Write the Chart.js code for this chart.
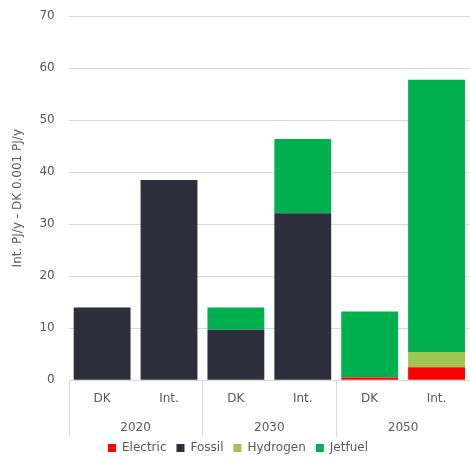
<!DOCTYPE html>
<html lang="en">
<head>
    <meta charset="UTF-8">
    <title>PJ/y</title>
    <script src="https://cdn.jsdelivr.net/npm/chart.js"></script>
    <style>
        body { margin: 0; padding: 0; background-color: white; }
        .wrap { width: 470px; height: 458px; }
    </style>
</head>
<body>
    <div class="wrap">
        <canvas id="pjChart"></canvas>
    </div>
    <script>
        // Datos
        const categories = ['DK', 'Int.', 'DK', 'Int.', 'DK', 'Int.'];
        const years = ['2020', '2030', '2050'];
        const electric = [0, 0, 0, 0, 0.5, 2.5];
        const fossil = [14, 38.5, 9.7, 32.1, 0, 0];
        const hydrogen = [0, 0, 0, 0, 0, 2.9];
        const jetfuel = [0, 0, 4.3, 14.3, 12.7, 52.4];
        const yTicks = [0, 10, 20, 30, 40, 50, 60, 70];

        // lineas separadoras entre grupos de años
        const separators = {
            id: 'separators',
            afterDraw(chart) {
                const x = chart.scales.x;
                const x2 = chart.scales.x2;
                const ctx = chart.ctx;
                const step = x.getPixelForValue(1) - x.getPixelForValue(0);
                ctx.save();
                ctx.strokeStyle = '#d9d9d9';
                ctx.lineWidth = 1;
                for (let i = 0; i <= categories.length; i += 2) {
                    const px = Math.round(x.getPixelForValue(0) - step / 2 + i * step) + 0.5;
                    ctx.beginPath();
                    ctx.moveTo(px, chart.chartArea.bottom);
                    ctx.lineTo(px, x2.bottom + 5);
                    ctx.stroke();
                }
                ctx.restore();
            }
        };

        Chart.defaults.font.family = "'DejaVu Sans', Verdana, sans-serif";
        Chart.defaults.font.size = 12;
        Chart.defaults.color = '#595959';

        const ctx = document.getElementById('pjChart').getContext('2d');
        new Chart(ctx, {
            type: 'bar',
            data: {
                labels: categories,
                datasets: [
                    { label: 'Electric', data: electric, backgroundColor: '#ff0000' },
                    { label: 'Fossil', data: fossil, backgroundColor: '#2e2e3c' },
                    { label: 'Hydrogen', data: hydrogen, backgroundColor: '#9cc850' },
                    { label: 'Jetfuel', data: jetfuel, backgroundColor: '#00b04f' }
                ]
            },
            options: {
                responsive: true,
                maintainAspectRatio: false,
                animation: false,
                layout: { padding: { left: 6, right: 0, top: 0, bottom: -6 } },
                datasets: { bar: { categoryPercentage: 1, barPercentage: 0.85 } },
                plugins: {
                    legend: {
                        position: 'bottom',
                        labels: { boxWidth: 8, boxHeight: 8, padding: 10, font: { size: 12 } }
                    },
                    tooltip: { enabled: false }
                },
                scales: {
                    x: {
                        stacked: true,
                        grid: { display: false, drawTicks: false },
                        border: { display: false },
                        ticks: { padding: 11 }
                    },
                    x2: {
                        type: 'category',
                        labels: years,
                        position: 'bottom',
                        offset: true,
                        grid: { display: false, drawTicks: false },
                        border: { display: false },
                        ticks: { padding: 4 },
                        afterFit: s => { s.height -= 7; }
                    },
                    y: {
                        stacked: true,
                        min: 0,
                        max: 70,
                        afterBuildTicks: s => { s.ticks = yTicks.map(v => ({ value: v })); },
                        afterFit: s => { s.paddingTop -= 5; },
                        grid: { color: '#d9d9d9', drawTicks: false },
                        border: { display: false },
                        ticks: { padding: 14 },
                        title: { display: true, text: 'Int. PJ/y - DK 0.001 PJ/y', padding: { top: 5, bottom: 0 } }
                    }
                }
            },
            plugins: [separators]
        });
    </script>
</body>
</html>
